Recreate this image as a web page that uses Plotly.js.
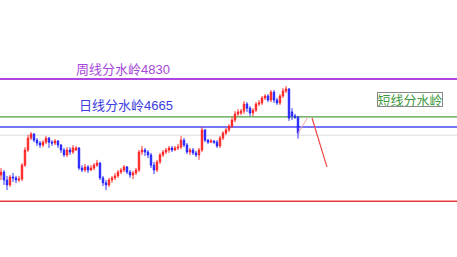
<!DOCTYPE html>
<html>
<head>
<meta charset="utf-8">
<script src="https://cdn.plot.ly/plotly-3.0.1.min.js"></script>
<style>html,body{margin:0;padding:0;background:#fff;}#chart{width:457px;height:257px;}</style>
</head>
<body>
<div id="chart"></div>
<script>
// Candle values (price)
const openP  = [4500,4510,4483,4466,4493,4490,4483,4486,4534,4586,4627,4641,4620,4610,4603,4613,4627,4613,4610,4617,
                4603,4586,4569,4586,4579,4586,4593,4524,4517,4528,4517,4524,4534,4541,4490,4473,4466,4483,4490,4497,
                4510,4517,4528,4510,4500,4507,4517,4579,4586,4579,4569,4534,4517,4545,4569,4579,4586,4593,4586,4593,
                4596,4620,4603,4579,4586,4576,4569,4586,4655,4620,4613,4617,4613,4600,4627,4644,4655,4668,4689,4710,
                4713,4720,4744,4730,4713,4723,4744,4748,4765,4772,4758,4785,4758,4748,4772,4789,4796,4717,4703,4699];
const closeP = [4510,4483,4466,4493,4490,4483,4486,4534,4586,4627,4641,4620,4610,4603,4613,4627,4613,4610,4617,4603,
                4586,4569,4586,4579,4593,4593,4524,4517,4528,4517,4524,4534,4541,4490,4473,4466,4483,4490,4497,4510,
                4517,4528,4510,4500,4507,4517,4579,4586,4579,4569,4534,4517,4545,4569,4579,4586,4593,4586,4593,4596,
                4620,4603,4579,4586,4576,4569,4586,4655,4620,4613,4617,4613,4600,4627,4644,4655,4668,4689,4710,4717,
                4720,4744,4730,4713,4723,4744,4748,4765,4772,4758,4785,4758,4748,4772,4789,4796,4696,4703,4699,4644];
const highP  = [4524,4517,4497,4500,4507,4497,4497,4541,4596,4638,4648,4644,4627,4617,4620,4634,4631,4620,4624,4620,
                4607,4593,4596,4596,4603,4600,4596,4534,4538,4534,4534,4541,4552,4545,4497,4483,4490,4497,4507,4517,
                4524,4534,4531,4517,4514,4524,4586,4600,4593,4586,4576,4545,4552,4576,4586,4593,4600,4600,4600,4607,
                4634,4627,4610,4593,4593,4583,4593,4665,4658,4624,4624,4620,4620,4634,4651,4662,4675,4699,4720,4727,
                4727,4754,4751,4737,4730,4751,4758,4772,4778,4778,4792,4792,4765,4778,4799,4806,4799,4730,4710,4703];
const lowP   = [4483,4466,4448,4459,4476,4472,4476,4479,4528,4579,4620,4613,4600,4593,4596,4607,4593,4600,4603,4593,
                4576,4562,4562,4569,4572,4583,4517,4510,4510,4507,4514,4517,4528,4483,4462,4448,4459,4473,4483,4490,
                4503,4510,4503,4490,4486,4500,4510,4569,4565,4558,4524,4503,4510,4538,4562,4572,4576,4579,4583,4586,
                4589,4596,4572,4569,4569,4562,4552,4579,4613,4607,4610,4607,4593,4593,4620,4638,4648,4662,4682,4703,
                4706,4710,4717,4703,4703,4717,4737,4741,4758,4751,4751,4748,4741,4741,4765,4782,4686,4689,4693,4625];

// Horizontal levels
const weeklyLevel = 4830;
const greenLevel = 4700;
const dailyLevel = 4665;
const grayLevel = 4637;
const redLevel = 4410;

// Projection arrow (candle index, price)
const upX = [99, 102.33];
const upY = [4644, 4699];
const downX = [103.67, 108.67];
const downY = [4696, 4527];

const labels = ["周线分水岭4830", "日线分水岭4665", "短线分水岭"];

const idx = openP.map((_, i) => i);

const traces = [
  {
    type: 'candlestick', x: idx, open: openP, high: highP, low: lowP, close: closeP,
    increasing: {line: {color: '#ff2020', width: 0.9}, fillcolor: '#ff2020'},
    decreasing: {line: {color: '#2020ff', width: 0.9}, fillcolor: '#2020ff'},
    whiskerwidth: 0, hoverinfo: 'skip', showlegend: false
  },
  {type: 'scatter', mode: 'lines', x: upX, y: upY, line: {color: '#f7a6a6', width: 1}, showlegend: false, hoverinfo: 'skip'},
  {type: 'scatter', mode: 'lines', x: downX, y: downY, line: {color: '#f04848', width: 1.2}, showlegend: false, hoverinfo: 'skip'}
];

function hline(y, color, w) {
  return {type: 'line', xref: 'paper', x0: 0, x1: 1, yref: 'y', y0: y, y1: y, line: {color: color, width: w}, layer: 'below'};
}

const layout = {
  width: 457, height: 257,
  margin: {l: 0, r: 0, t: 0, b: 0},
  paper_bgcolor: '#ffffff', plot_bgcolor: '#ffffff',
  showlegend: false,
  xaxis: {range: [-0.333, 152], visible: false, rangeslider: {visible: false}, fixedrange: true},
  yaxis: {range: [4218, 5102], visible: false, fixedrange: true},
  shapes: [
    hline(weeklyLevel, '#b044e0', 2),
    hline(greenLevel, '#4f9e3f', 1.2),
    hline(dailyLevel, '#4848f8', 1.6),
    hline(grayLevel, '#dddddd', 1),
    hline(redLevel, '#e83a3a', 1.6)
  ],
  annotations: [
    {text: labels[0], xref: 'paper', yref: 'paper', x: 0.269, y: 0.728, xanchor: 'center', yanchor: 'middle', showarrow: false,
     font: {family: 'Liberation Sans, Noto Sans CJK SC', size: 13, color: '#a848d8'}},
    {text: labels[1], xref: 'paper', yref: 'paper', x: 0.276, y: 0.591, xanchor: 'center', yanchor: 'middle', showarrow: false,
     font: {family: 'Liberation Sans, Noto Sans CJK SC', size: 13, color: '#3c3ce0'}},
    {text: labels[2], xref: 'paper', yref: 'paper', x: 0.897, y: 0.613, xanchor: 'center', yanchor: 'middle', showarrow: false,
     font: {family: 'Noto Sans CJK SC', size: 13, color: '#3f9a3f'},
     bordercolor: '#888888', borderwidth: 1, borderpad: 0, bgcolor: '#ffffff', width: 64, height: 13}
  ]
};

Plotly.newPlot('chart', traces, layout, {staticPlot: true, displayModeBar: false});
</script>
</body>
</html>
